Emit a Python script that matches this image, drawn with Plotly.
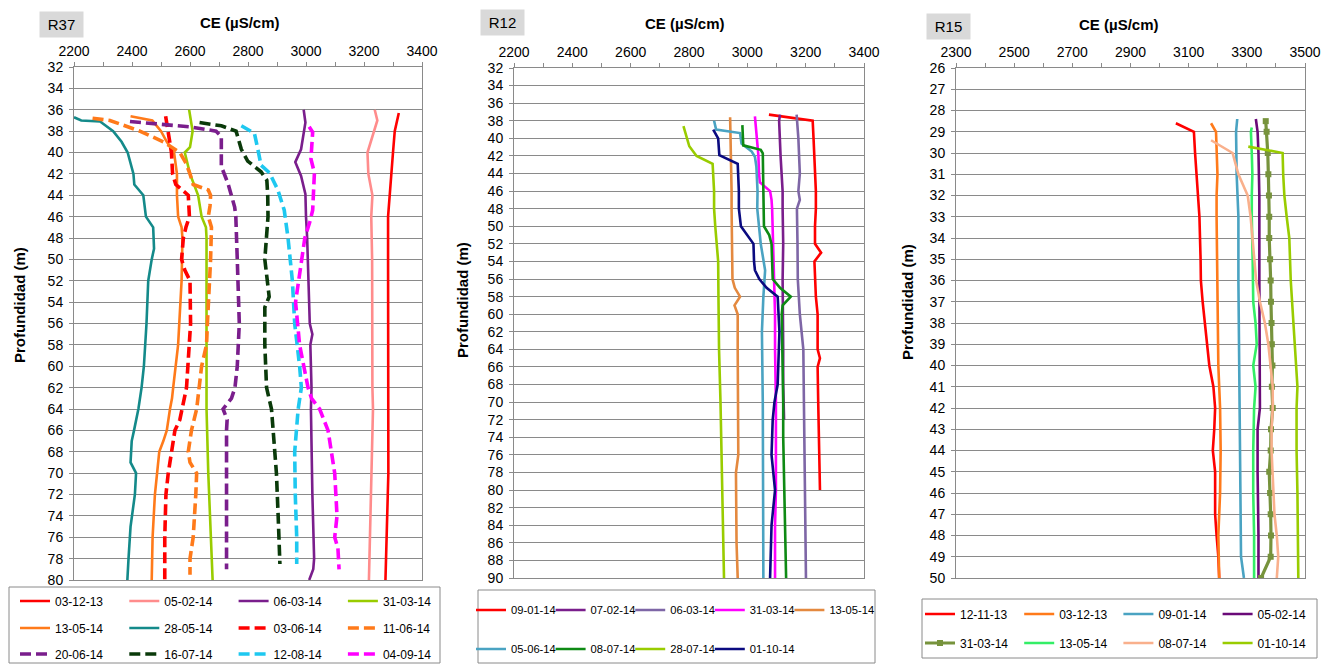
import plotly.graph_objects as go

W, H = 1322, 664
FONT = "Liberation Sans, Arial, sans-serif"

# ======================= DATA =======================
# ---- R37 (depth m, CE uS/cm) ----
R37_031213_D = [36.3, 38, 40, 42, 44, 46, 50, 56, 62, 64, 70, 76, 80]
R37_031213_CE = [3320, 3306, 3300, 3294, 3290, 3283, 3283, 3283, 3283, 3285, 3284, 3278, 3274]
R37_050214_D = [36, 37, 40, 42, 44, 46, 50, 56, 62, 64, 70, 76, 80]
R37_050214_CE = [3237, 3246, 3212, 3215, 3229, 3225, 3228, 3228, 3229, 3231, 3225, 3221, 3217]
R37_060314_D = [36, 37.2, 39.7, 40.9, 42.2, 43.9, 46, 48, 56, 57, 58, 62, 64, 68, 72, 78, 79, 80]
R37_060314_CE = [2992, 2998, 2983, 2963, 2983, 2998, 3000, 3004, 3013, 3022, 3015, 3019, 3017, 3019, 3022, 3028, 3025, 3011]
R37_310314_D = [36, 38, 39.5, 40, 42, 43, 44, 46, 47, 48, 58, 62, 64, 70, 74, 80]
R37_310314_CE = [2597, 2609, 2600, 2582, 2600, 2615, 2628, 2640, 2655, 2657, 2657, 2659, 2657, 2663, 2668, 2678]
R37_130514_D = [36.6, 37, 38, 39, 40, 42, 44, 46, 47, 48, 52, 58, 62, 63, 64, 66, 67, 68, 72, 76, 80]
R37_130514_CE = [2395, 2470, 2500, 2520, 2545, 2555, 2555, 2559, 2571, 2574, 2571, 2559, 2542, 2538, 2531, 2520, 2508, 2494, 2479, 2471, 2468]
R37_280514_D = [36.7, 37, 37.1, 38, 39, 40, 42, 43, 44, 46, 47, 49, 50, 52, 56, 60, 62, 64, 66, 67, 69, 70, 72, 75, 78, 80]
R37_280514_CE = [2200, 2225, 2290, 2335, 2364, 2385, 2405, 2408, 2439, 2448, 2473, 2476, 2468, 2456, 2450, 2441, 2433, 2422, 2407, 2399, 2395, 2414, 2410, 2395, 2388, 2384]
R37_030614_D = [36.6, 38, 40, 42, 43, 44, 46, 47, 48, 50, 51, 52, 56, 62, 63, 65, 66, 68, 70, 72, 76, 80]
R37_030614_CE = [2516, 2525, 2536, 2540, 2551, 2594, 2598, 2586, 2577, 2571, 2582, 2600, 2602, 2588, 2580, 2565, 2548, 2536, 2525, 2517, 2513, 2513]
R37_110614_D = [36.8, 37, 38, 39, 40, 41, 42, 43, 43.5, 44, 45, 46, 47, 50, 56, 58, 60, 62, 64, 66, 68, 69, 70, 72, 76, 78, 79.5]
R37_110614_CE = [2264, 2324, 2427, 2508, 2565, 2586, 2600, 2611, 2663, 2671, 2669, 2663, 2674, 2671, 2660, 2657, 2640, 2632, 2623, 2605, 2594, 2600, 2623, 2620, 2611, 2600, 2600]
R37_200614_D = [37.1, 37.6, 38, 38.5, 41.3, 42.9, 45.1, 46, 50, 56, 60, 62, 63, 64, 65, 66, 72, 79]
R37_200614_CE = [2393, 2599, 2690, 2708, 2708, 2731, 2754, 2758, 2763, 2770, 2763, 2755, 2743, 2714, 2728, 2726, 2726, 2726]
R37_160714_D = [37.2, 37.5, 38, 39.7, 40.8, 41.8, 42.6, 44, 46, 50, 53.5, 54.5, 58, 62, 64, 66, 70, 74, 78.5]
R37_160714_CE = [2633, 2708, 2759, 2777, 2799, 2845, 2865, 2868, 2869, 2858, 2873, 2858, 2858, 2864, 2881, 2887, 2898, 2904, 2910]
R37_120814_D = [37.5, 38.2, 39.7, 41.2, 41.9, 43.5, 45.4, 48, 52, 56, 60, 62, 64, 68, 72, 76, 78.5]
R37_120814_CE = [2777, 2822, 2834, 2845, 2874, 2903, 2925, 2938, 2953, 2961, 2978, 2984, 2973, 2961, 2963, 2968, 2968]
R37_040914_D = [37.6, 38.1, 40.6, 41.9, 45.4, 46.5, 48, 52, 54, 58, 62, 63, 64, 66, 70, 74, 76, 77, 79]
R37_040914_CE = [3011, 3023, 3017, 3029, 3023, 3013, 2996, 2973, 2964, 2978, 3007, 3019, 3047, 3076, 3099, 3107, 3099, 3110, 3114]

# ---- R12 ----
R12_090114_D = [37.3, 38, 40, 42, 46, 48, 50, 52, 53, 54, 56, 58, 60, 64, 65, 66, 70, 72, 76, 80]
R12_090114_CE = [3074, 3224, 3227, 3230, 3235, 3235, 3232, 3232, 3253, 3230, 3232, 3235, 3241, 3241, 3249, 3241, 3243, 3244, 3247, 3249]
R12_070214_D = [37.3, 38, 42, 46, 48, 52, 56, 60, 64, 68, 72]
R12_070214_CE = [3112, 3109, 3114, 3121, 3121, 3123, 3121, 3123, 3123, 3123, 3126]
R12_060314_D = [37.3, 40, 44, 46, 47, 48, 52, 56, 60, 64, 70, 74, 80, 90]
R12_060314_CE = [3169, 3175, 3180, 3175, 3180, 3170, 3172, 3173, 3180, 3192, 3194, 3195, 3197, 3201]
R12_310314_D = [37.5, 40, 42, 44, 45, 46, 47, 48, 52, 56, 60, 64, 68, 70, 80, 84, 90]
R12_310314_CE = [3026, 3032, 3038, 3040, 3043, 3078, 3083, 3085, 3089, 3092, 3095, 3095, 3097, 3098, 3098, 3095, 3095]
R12_130514_D = [37.6, 40, 46, 48, 56, 57, 58, 59, 60, 64, 70, 74, 76, 78, 86, 90]
R12_130514_CE = [2941, 2943, 2946, 2946, 2949, 2957, 2975, 2956, 2967, 2967, 2969, 2969, 2969, 2961, 2963, 2967]
R12_050614_D = [38, 39, 39.4, 40.6, 41.5, 42.1, 43.2, 46, 48, 52, 55, 58, 62, 70, 90]
R12_050614_CE = [2886, 2893, 2975, 2980, 3015, 3026, 3031, 3035, 3034, 3046, 3061, 3055, 3050, 3053, 3055]
R12_080714_D = [38.5, 40.8, 41.3, 41.7, 46, 48, 50, 51, 52, 56, 57, 58, 59, 60, 64, 70, 74, 80, 90]
R12_080714_CE = [2983, 2986, 3046, 3053, 3055, 3055, 3057, 3075, 3083, 3087, 3112, 3149, 3121, 3118, 3121, 3123, 3123, 3126, 3133]
R12_280714_D = [38.6, 40.9, 42, 42.9, 46, 48, 50, 54, 58, 64, 70, 76, 80, 86, 90]
R12_280714_CE = [2781, 2801, 2826, 2881, 2886, 2886, 2890, 2900, 2901, 2903, 2908, 2911, 2913, 2917, 2920]
R12_011014_D = [39, 40, 41.9, 42.9, 46, 48, 50, 51, 52, 54, 55, 56, 57, 58, 62, 66, 68, 70, 72, 76, 78, 80, 84, 90]
R12_011014_CE = [2883, 2900, 2904, 2967, 2971, 2971, 2978, 2998, 3021, 3023, 3026, 3041, 3066, 3104, 3110, 3106, 3104, 3093, 3087, 3083, 3088, 3095, 3083, 3078]

# ---- R15 ----
R15_121113_D = [28.6, 29, 30, 31, 32, 33, 35, 36, 37, 38, 39, 40, 41, 42, 43, 44, 45, 46, 47, 48, 49, 50]
R15_121113_CE = [3056, 3118, 3122, 3127, 3133, 3137, 3141, 3142, 3148, 3156, 3164, 3171, 3185, 3191, 3188, 3183, 3191, 3191, 3191, 3196, 3202, 3205]
R15_031213_D = [28.6, 29, 31, 32, 33, 36, 40, 42, 44, 46, 48, 50]
R15_031213_CE = [3177, 3194, 3199, 3196, 3196, 3199, 3202, 3208, 3210, 3208, 3202, 3205]
R15_090114_D = [28.4, 29, 31, 32, 33, 36, 40, 42, 45, 48, 49, 50]
R15_090114_CE = [3267, 3263, 3265, 3267, 3271, 3271, 3273, 3274, 3276, 3279, 3280, 3290]
R15_050214_D = [28.4, 29, 30, 32, 36, 40, 42, 43, 45, 48, 50]
R15_050214_CE = [3331, 3337, 3340, 3343, 3343, 3345, 3345, 3337, 3337, 3340, 3340]
R15_310314_D = [28.5, 29, 30, 31, 32, 33, 34, 35, 36, 37, 38, 39, 40, 41, 42, 43, 44, 45, 46, 47, 48, 49, 50]
R15_310314_CE = [3365, 3368, 3372, 3374, 3376, 3377, 3377, 3380, 3382, 3383, 3385, 3386, 3388, 3386, 3389, 3383, 3382, 3377, 3380, 3382, 3383, 3382, 3349]
R15_130514_D = [28.8, 29, 30, 31, 32, 33, 35, 37, 38, 39, 40, 41, 42, 44, 46, 48, 50]
R15_130514_CE = [3317, 3314, 3317, 3319, 3317, 3317, 3320, 3322, 3330, 3334, 3322, 3330, 3325, 3322, 3322, 3325, 3325]
R15_080714_D = [29.4, 30, 31, 32, 33, 34, 35, 36, 37, 38, 39, 40, 41, 42, 43, 44, 45, 46, 47, 48, 49, 50]
R15_080714_CE = [3177, 3251, 3271, 3303, 3313, 3320, 3325, 3332, 3345, 3362, 3374, 3382, 3389, 3389, 3385, 3385, 3389, 3391, 3395, 3403, 3408, 3403]
R15_011014_D = [29.7, 30, 31, 32, 33, 34, 36, 38, 40, 41, 42, 44, 46, 48, 50]
R15_011014_CE = [3305, 3423, 3425, 3429, 3437, 3446, 3451, 3460, 3469, 3474, 3471, 3471, 3474, 3475, 3477]

# axis ranges
R37_X_RANGE = [2200, 3400]
R12_X_RANGE = [2200, 3400]
R15_X_RANGE = [2300, 3500]
R37_Y_RANGE = [80, 32]
R12_Y_RANGE = [90, 32]
R15_Y_RANGE = [50, 26]

# ======================= STYLE / LAYOUT =======================
RED = "#FF0000"
SALMON = "#FF8C8C"
PURPLE = "#7A1E8C"
LIME = "#99CC00"
ORANGE = "#FF7A1A"
TEAL = "#148A8A"
DKGREEN = "#0A3A0A"
CYAN = "#1EC8F0"
MAGENTA = "#FF00FF"
SLATE = "#7E66A6"
PERU = "#E4893F"
STEEL = "#4AA3C2"
GREEN = "#0E8A14"
NAVY = "#0A0A80"
OLIVE = "#77933C"
BRGREEN = "#33EE66"
PEACH = "#F9B08C"

SOLID_W = 2.6
DASH_W = 3.6
DASH = "11px,5px"

# (name, depths, values, color, dash, panel, legend key)
SERIES = [
    ("03-12-13", R37_031213_D, R37_031213_CE, RED, None, 1, "legend"),
    ("05-02-14", R37_050214_D, R37_050214_CE, SALMON, None, 1, "legend"),
    ("06-03-14", R37_060314_D, R37_060314_CE, PURPLE, None, 1, "legend"),
    ("31-03-14", R37_310314_D, R37_310314_CE, LIME, None, 1, "legend"),
    ("13-05-14", R37_130514_D, R37_130514_CE, ORANGE, None, 1, "legend2"),
    ("28-05-14", R37_280514_D, R37_280514_CE, TEAL, None, 1, "legend2"),
    ("03-06-14", R37_030614_D, R37_030614_CE, RED, DASH, 1, "legend2"),
    ("11-06-14", R37_110614_D, R37_110614_CE, ORANGE, DASH, 1, "legend2"),
    ("20-06-14", R37_200614_D, R37_200614_CE, PURPLE, DASH, 1, "legend3"),
    ("16-07-14", R37_160714_D, R37_160714_CE, DKGREEN, DASH, 1, "legend3"),
    ("12-08-14", R37_120814_D, R37_120814_CE, CYAN, DASH, 1, "legend3"),
    ("04-09-14", R37_040914_D, R37_040914_CE, MAGENTA, DASH, 1, "legend3"),

    ("09-01-14", R12_090114_D, R12_090114_CE, RED, None, 2, "legend4"),
    ("07-02-14", R12_070214_D, R12_070214_CE, PURPLE, None, 2, "legend4"),
    ("06-03-14", R12_060314_D, R12_060314_CE, SLATE, None, 2, "legend4"),
    ("31-03-14", R12_310314_D, R12_310314_CE, MAGENTA, None, 2, "legend4"),
    ("13-05-14", R12_130514_D, R12_130514_CE, PERU, None, 2, "legend4"),
    ("05-06-14", R12_050614_D, R12_050614_CE, STEEL, None, 2, "legend5"),
    ("08-07-14", R12_080714_D, R12_080714_CE, GREEN, None, 2, "legend5"),
    ("28-07-14", R12_280714_D, R12_280714_CE, LIME, None, 2, "legend5"),
    ("01-10-14", R12_011014_D, R12_011014_CE, NAVY, None, 2, "legend5"),

    ("12-11-13", R15_121113_D, R15_121113_CE, RED, None, 3, "legend6"),
    ("03-12-13", R15_031213_D, R15_031213_CE, ORANGE, None, 3, "legend6"),
    ("09-01-14", R15_090114_D, R15_090114_CE, STEEL, None, 3, "legend6"),
    ("05-02-14", R15_050214_D, R15_050214_CE, "#6A0A78", None, 3, "legend6"),
    ("31-03-14", R15_310314_D, R15_310314_CE, OLIVE, "markers", 3, "legend7"),
    ("13-05-14", R15_130514_D, R15_130514_CE, BRGREEN, None, 3, "legend7"),
    ("08-07-14", R15_080714_D, R15_080714_CE, PEACH, None, 3, "legend7"),
    ("01-10-14", R15_011014_D, R15_011014_CE, LIME, None, 3, "legend7"),
]

def fx(p):
    return p / W

def fy(p):
    return 1 - p / H

# plot area pixel boxes (left, right, top, bottom)
BOXES = {1: (74, 422, 67, 580), 2: (514, 864, 68, 578), 3: (956, 1305, 68, 578)}
XR = {1: R37_X_RANGE, 2: R12_X_RANGE, 3: R15_X_RANGE}
YR = {1: R37_Y_RANGE, 2: R12_Y_RANGE, 3: R15_Y_RANGE}
YD = {1: 2, 2: 2, 3: 1}

fig = go.Figure()

for name, d, v, color, style, panel, leg in SERIES:
    sfx = "" if panel == 1 else str(panel)
    kw = dict(x=v, y=d, name=name, legend=leg, xaxis="x" + sfx, yaxis="y" + sfx,
              hoverinfo="skip")
    if style == "markers":
        kw.update(mode="lines+markers", line=dict(color=color, width=3.2),
                  marker=dict(symbol="square", size=6, color=color))
    elif style is None:
        kw.update(mode="lines", line=dict(color=color, width=SOLID_W))
    else:
        kw.update(mode="lines", line=dict(color=color, width=DASH_W, dash=style))
    fig.add_trace(go.Scatter(**kw))

# empty spacer entries so the last (overflowing) label of each tight R12 row is not clipped
for leg in ("legend4", "legend5"):
    fig.add_trace(go.Scatter(x=[None], y=[None], name=" ", legend=leg, xaxis="x2", yaxis="y2",
                             mode="lines", line=dict(color="rgba(0,0,0,0)", width=0),
                             hoverinfo="skip"))

GRID = "#8A8A8A"
layout = dict(
    width=W, height=H, autosize=False,
    margin=dict(l=0, r=0, t=0, b=0, pad=0, autoexpand=False),
    paper_bgcolor="white", plot_bgcolor="white",
    font=dict(family=FONT, size=14, color="black"),
    showlegend=True,
)

for p in (1, 2, 3):
    l, r, t, b = BOXES[p]
    sfx = "" if p == 1 else str(p)
    layout["xaxis" + sfx] = dict(
        domain=[fx(l), fx(r)], anchor="y" + sfx, side="top",
        range=XR[p], tick0=XR[p][0], dtick=200,
        showgrid=False, zeroline=False,
        showline=True, linecolor=GRID, linewidth=1, mirror=True,
        ticks="outside", ticklen=4, tickcolor=GRID, tickwidth=1,
        minor=dict(dtick=100, ticks="outside", ticklen=4, tickcolor=GRID, showgrid=False),
        tickfont=dict(size=14, color="black", family=FONT),
        ticklabelstandoff=0,
        fixedrange=True,
    )
    layout["yaxis" + sfx] = dict(
        domain=[fy(b), fy(t)], anchor="x" + sfx,
        range=YR[p], dtick=YD[p], tick0=0,
        showgrid=True, gridcolor=GRID, gridwidth=1, zeroline=False,
        showline=True, linecolor=GRID, linewidth=1, mirror=True,
        ticks="outside", ticklen=4, tickcolor=GRID, tickwidth=1,
        tickfont=dict(size=14, color="black", family=FONT),
        ticklabelstandoff=3,
        fixedrange=True,
    )

# legends: one per row, positioned by the text start (px) and row centre (px)
def legend_cfg(text_x, row_y, col_step, size):
    return dict(
        orientation="h", x=fx(text_x - 40), y=fy(row_y), xanchor="left", yanchor="middle",
        bgcolor="rgba(0,0,0,0)", borderwidth=0,
        font=dict(size=size, color="black", family=FONT),
        entrywidth=col_step - 45, entrywidthmode="pixels",
        itemwidth=30, traceorder="normal", itemclick=False, itemdoubleclick=False,
    )

layout["legend"] = legend_cfg(55, 601, 109.3, 12)
layout["legend2"] = legend_cfg(55, 628, 109.3, 12)
layout["legend3"] = legend_cfg(55, 654, 109.3, 12)
layout["legend4"] = legend_cfg(511, 610, 79.6, 11.2)
layout["legend5"] = legend_cfg(511, 649, 79.6, 11.2)
layout["legend6"] = legend_cfg(960, 614, 99.2, 12)
layout["legend7"] = legend_cfg(960, 643, 99.2, 12)

# legend frames
shapes = []
for (x0, y0, x1, y1) in [(9, 587, 440, 663), (478, 590, 875, 663), (922, 599, 1317, 658)]:
    shapes.append(dict(type="rect", xref="paper", yref="paper",
                       x0=fx(x0), x1=fx(x1), y0=fy(y1), y1=fy(y0),
                       line=dict(color="#8A8A8A", width=1), fillcolor="rgba(0,0,0,0)", layer="below"))
layout["shapes"] = shapes

ann = []
# well labels
for txt, cx, cy in [("R37", 61.5, 24.5), ("R12", 502.5, 23), ("R15", 948.5, 26)]:
    ann.append(dict(text=txt, x=fx(cx), y=fy(cy), xref="paper", yref="paper",
                    showarrow=False, bgcolor="#D9D9D9", width=41, height=23,
                    font=dict(size=15, color="black", family=FONT),
                    xanchor="center", yanchor="middle"))
# x titles
for cx, cy in [(240, 22.5), (685, 23.5), (1119, 24)]:
    ann.append(dict(text="<b>CE (µS/cm)</b>", x=fx(cx), y=fy(cy), xref="paper", yref="paper",
                    showarrow=False, font=dict(size=15, color="black", family=FONT),
                    xanchor="center", yanchor="middle"))
# y titles
for cx, cy in [(20, 305), (462, 300), (907, 302)]:
    ann.append(dict(text="<b>Profundidad (m)</b>", x=fx(cx), y=fy(cy), xref="paper", yref="paper",
                    showarrow=False, textangle=-90, font=dict(size=15, color="black", family=FONT),
                    xanchor="center", yanchor="middle"))
layout["annotations"] = ann

fig.update_layout(**layout)
fig.write_html("out.html", config={"displayModeBar": False})
